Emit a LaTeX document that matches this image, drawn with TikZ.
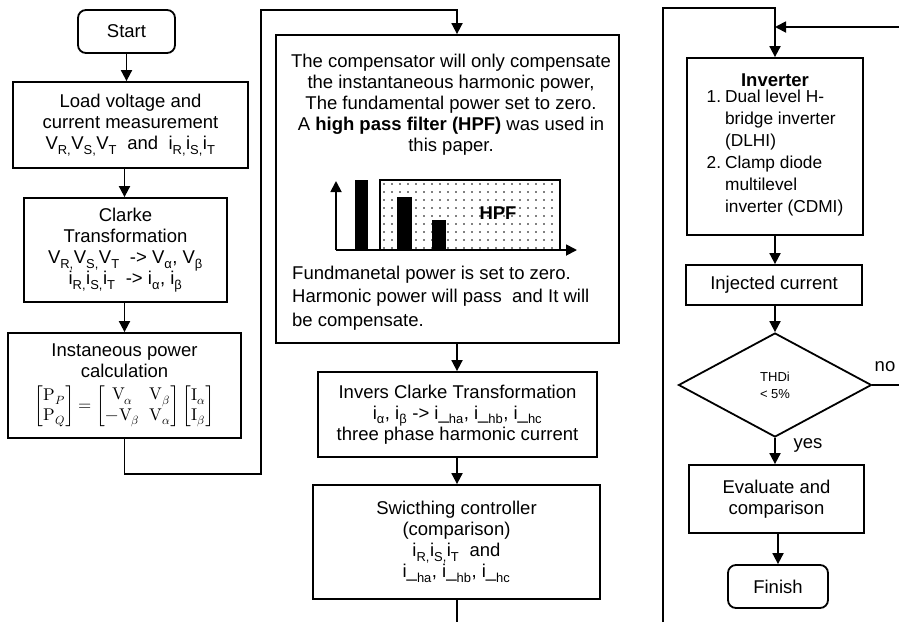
\documentclass[tikz,border=0pt]{standalone}
\usepackage{fontspec}
\usepackage{amsmath}
\usepackage{unicode-math}
\setmainfont{Liberation Sans}
\setmathfont{Latin Modern Math}
\usetikzlibrary{arrows.meta,shapes.geometric}
\newcommand{\sbs}[1]{\textsubscript{#1}}
\newcommand{\ih}[1]{i\_\textsubscript{#1}}
\begin{document}
\begin{tikzpicture}[x=1pt,y=-1pt,
 every node/.style={font=\fontsize{18.5}{21}\selectfont},
 box/.style={draw, line width=1.8pt, inner sep=2pt, align=center},
 rbox/.style={box, rounded corners=8pt},
 arr/.style={line width=1.8pt, -{Triangle[width=11pt,length=11pt]}},
 ln/.style={line width=1.8pt},
 txt/.style={inner sep=0pt},
]
\useasboundingbox (0,0) rectangle (899,622);

% ---------- left column ----------
\node[rbox, minimum width=97pt, minimum height=43pt] (start) at (126.5,31.5) {Start};
\node[box, minimum width=235pt, minimum height=86pt] (load) at (130.5,125)
  {Load voltage and\\current measurement\\V\sbs{R,}V\sbs{S,}V\sbs{T}~ and ~i\sbs{R,}i\sbs{S,}i\sbs{T}};
\node[box, minimum width=203pt, minimum height=104pt] (clarke) at (125.5,250)
  {Clarke\\Transformation\\V\sbs{R,}V\sbs{S,}V\sbs{T} ~-> V\sbs{α}, V\sbs{β}\\i\sbs{R,}i\sbs{S,}i\sbs{T} ~-> i\sbs{α}, i\sbs{β}};
\node[box, minimum width=233pt, minimum height=105pt] (inst) at (124.5,385.5)
  {Instaneous power\\calculation\\[7pt]
   {\fontsize{17}{20}\selectfont $\begin{bmatrix}\symup{P}_P\\ \symup{P}_Q\end{bmatrix} = \begin{bmatrix}\symup{V}_\alpha & \symup{V}_\beta\\ -\symup{V}_\beta & \symup{V}_\alpha\end{bmatrix}\begin{bmatrix}\symup{I}_\alpha\\ \symup{I}_\beta\end{bmatrix}$}};

\draw[arr] (start.south) -- (start.south |- load.north);
\draw[arr] (inst.north |- load.south) -- (inst.north |- clarke.north);
\draw[arr] (inst.north |- clarke.south) -- (inst.north);

% ---------- middle column ----------
\node[box, minimum width=343pt, minimum height=308pt] (big) at (447.5,189) {};
\node[txt, align=center] (bigtop) at (451,105)
  {The compensator will only compensate\\the instantaneous harmonic power,\\The fundamental power set to zero.\\A \textbf{high pass filter (HPF)} was used in\\this paper.};
\node[txt, align=left, anchor=west, font=\fontsize{18.5}{23.5}\selectfont] (bigbot) at (292,298)
  {Fundmanetal power is set to zero.\\Harmonic power will pass~ and It will\\be compensate.};

% spectrum sketch
\foreach \x in {384,392,...,556} \foreach \y in {184,192,...,248} \fill (\x,\y) circle (0.9pt);
\draw[ln] (380,180) rectangle (560,250);
\fill (355,180) rectangle (368,250);
\fill (397,197) rectangle (412,250);
\fill (432,220) rectangle (446,250);
\node[txt, font=\bfseries\fontsize{18.5}{21}\selectfont] (hpf) at (498,213) {HPF};
\coordinate (o) at (336,250);
\coordinate (ya) at (336,181);
\coordinate (xa) at (577,250);
\draw[arr] (o) -- (ya);
\draw[arr] (o) -- (xa);

\coordinate (m1) at (261,474);
\coordinate (m2) at (261,10);
\coordinate (m3) at (457,10);
\draw[arr] (inst.south) |- (m1) -- (m2) -- (m3) -- (m3 |- big.north);

\node[box, minimum width=279pt, minimum height=85pt] (invclarke) at (457.5,414.5)
  {Invers Clarke Transformation\\i\sbs{α}, i\sbs{β} -> \ih{ha}, \ih{hb}, \ih{hc}\\three phase harmonic current};
\node[box, minimum width=287pt, minimum height=114pt] (switch) at (456.5,542)
  {Swicthing controller\\(comparison)\\i\sbs{R,}i\sbs{S,}i\sbs{T}~ and\\\ih{ha}, \ih{hb}, \ih{hc}};
\draw[arr] (m3 |- big.south) -- (m3 |- invclarke.north);
\draw[arr] (m3 |- invclarke.south) -- (m3 |- switch.north);
\coordinate (m4) at (457,622);
\draw[ln] (m3 |- switch.south) -- (m4);

% ---------- right column ----------
\node[box, minimum width=176pt, minimum height=177pt, font=\fontsize{17.3}{22}\selectfont] (inverter) at (775,146.5)
  {{\bfseries\fontsize{18.5}{22}\selectfont Inverter}\\
   \begin{tabular}{@{}r@{\hspace{4pt}}l@{}}1.&Dual level H-\\&bridge inverter\\&(DLHI)\\2.&Clamp diode\\&multilevel\\&inverter (CDMI)\end{tabular}};
\coordinate (r0) at (663,622);
\coordinate (r1) at (663,8);
\coordinate (r2) at (775,8);
\draw[arr] (r0) -- (r1) -- (r2) -- (inverter.north);
\coordinate (rin) at (899,27);
\draw[arr] (rin) -- (rin -| inverter.north);

\node[box, minimum width=176pt, minimum height=40pt] (inj) at (774,285) {Injected current};
\node[draw, diamond, line width=1.8pt, minimum width=193pt, minimum height=104pt, inner sep=0pt, align=center, font=\fontsize{13}{17}\selectfont] (thd) at (775,385) {THDi\\< 5\%};
\node[box, minimum width=175pt, minimum height=68pt] (eval) at (776.5,499) {Evaluate and\\comparison};
\node[rbox, minimum width=100pt, minimum height=43pt] (finish) at (778,586.5) {Finish};

\draw[arr] (inverter.south) -- (inverter.south |- inj.north);
\draw[arr] (thd.north |- inj.south) -- (thd.north);
\draw[arr] (thd.south) -- (thd.south |- eval.north);
\draw[arr] (finish.north |- eval.south) -- (finish.north);
\coordinate (rno) at (899,385);
\draw[ln] (thd.east) -- (rno);
\node[txt] (no) at (885,367) {no};
\node[txt] (yes) at (808,445) {yes};
\end{tikzpicture}
\end{document}
